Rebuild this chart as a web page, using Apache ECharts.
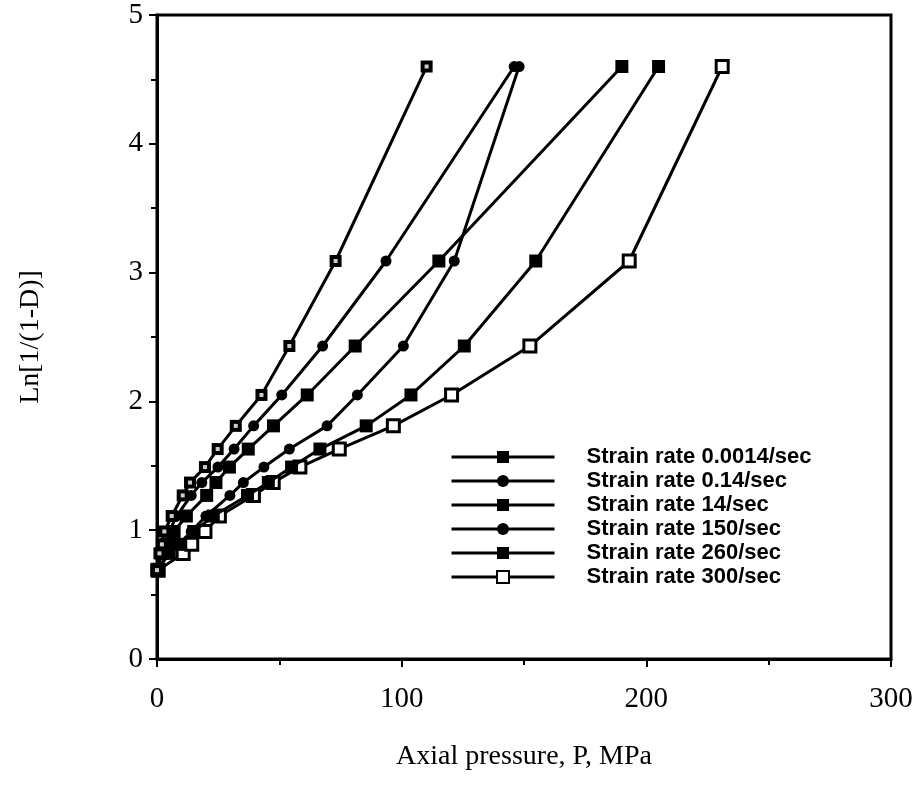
<!DOCTYPE html>
<html lang="en" style="height: 100%">
<head>
<meta charset="utf-8">
<title>Ln[1/(1-D)] vs axial pressure</title>
</head>
<body style="height: 100%; margin: 0; background: #fff">
<div id="container" style="height: 100%"></div>
<script type="text/javascript" src="https://cdn.jsdelivr.net/npm/echarts/dist/echarts.min.js"></script>
<script type="text/javascript">
var dom = document.getElementById('container');
var myChart = echarts.init(dom);

// ln[1/(1-D)] levels shared by all curves
var lnLevels = [0.69, 0.82, 0.89, 0.99, 1.11, 1.27, 1.37, 1.49, 1.63, 1.81, 2.05, 2.43, 3.09, 4.6];

// axial pressure (MPa) at each level, one array per strain rate
var p0014 = [0, 1, 2, 3, 6, 10.5, 13.5, 19.6, 24.8, 32.2, 42.7, 54.1, 73.0, 110.2];
var p014  = [0, 2, 3, 5, 8, 14, 18.3, 24.9, 31.5, 39.5, 51.0, 67.7, 93.6, 146];
var p14   = [0, 2, 4, 7, 12, 20.3, 24.1, 29.6, 37.3, 47.6, 61.4, 81.0, 115.2, 190];
var p150  = [0, 5, 9, 14, 20, 29.8, 35.3, 43.7, 54.1, 69.5, 81.9, 100.7, 121.5, 148];
var p260  = [0, 5, 9, 15, 23, 37, 45.5, 55.0, 66.6, 85.5, 103.8, 125.6, 154.8, 205];
var p300  = [0.5, 10.7, 14.2, 19.6, 25.5, 39.4, 47.5, 58.4, 74.5, 96.6, 120.4, 152.4, 193, 231];

var seriesNames = [
    'Strain rate 0.0014/sec',
    'Strain rate 0.14/sec',
    'Strain rate 14/sec',
    'Strain rate 150/sec',
    'Strain rate 260/sec',
    'Strain rate 300/sec'
];
var seriesP = [p0014, p014, p14, p150, p260, p300];

var xTicks = [0, 100, 200, 300];
var yTicks = [0, 1, 2, 3, 4, 5];

function pairs(ps) {
    return ps.map(function (p, i) { return [p, lnLevels[i]]; });
}

// marker look per curve
var markers = [
    { symbol: 'rect', size: 12, fill: '#000', border: 0 },
    { symbol: 'circle', size: 11, fill: '#000', border: 0 },
    { symbol: 'rect', size: 13, fill: '#000', border: 0 },
    { symbol: 'circle', size: 11, fill: '#000', border: 0 },
    { symbol: 'rect', size: 13, fill: '#000', border: 0 },
    { symbol: 'rect', size: 12, fill: '#fff', border: 3 }
];

var series = seriesNames.map(function (name, k) {
    var m = markers[k];
    return {
        name: name,
        type: 'line',
        data: pairs(seriesP[k]),
        symbol: m.symbol,
        symbolSize: m.size,
        showAllSymbol: true,
        z: 10 - k,
        lineStyle: { color: '#000', width: 3 },
        itemStyle: {
            color: m.fill,
            borderColor: '#000',
            borderWidth: m.border
        },
        emphasis: { disabled: true }
    };
});

// small white dot inside the 0.0014/sec squares
series.push({
    name: 'inner',
    type: 'scatter',
    data: pairs(p0014),
    symbol: 'rect',
    symbolSize: 4,
    z: 20,
    itemStyle: { color: '#fff' },
    silent: true
});

var option = {
    animation: false,
    backgroundColor: '#fff',
    grid: {
        left: 157,
        right: 33,
        top: 15,
        bottom: 128,
        show: true,
        borderColor: '#000',
        borderWidth: 3
    },
    legend: {
        data: seriesNames,
        orient: 'vertical',
        left: 450,
        top: 446,
        padding: 0,
        itemWidth: 103,
        itemHeight: 15,
        itemGap: 2,
        lineStyle: { width: 3 },
        textStyle: {
            fontFamily: 'Liberation Sans',
            fontWeight: 'bold',
            fontSize: 22,
            lineHeight: 22,
            color: '#000',
            padding: [0, 0, 0, 27]
        }
    },
    xAxis: {
        type: 'value',
        min: xTicks[0],
        max: xTicks[xTicks.length - 1],
        interval: 100,
        name: 'Axial pressure, P, MPa',
        nameLocation: 'middle',
        nameGap: 84,
        nameTextStyle: { fontFamily: 'Liberation Serif', fontSize: 28, color: '#000' },
        axisLine: { lineStyle: { color: '#000', width: 3 } },
        axisTick: { length: 8, lineStyle: { color: '#000', width: 2 } },
        minorTick: { show: true, splitNumber: 2, length: 6, lineStyle: { color: '#000', width: 2 } },
        splitLine: { show: false },
        axisLabel: { fontFamily: 'Liberation Serif', fontSize: 29, color: '#000', margin: 26 }
    },
    yAxis: {
        type: 'value',
        min: yTicks[0],
        max: yTicks[yTicks.length - 1],
        interval: 1,
        name: 'Ln[1/(1-D)]',
        nameLocation: 'middle',
        nameGap: 112,
        nameTextStyle: { fontFamily: 'Liberation Serif', fontSize: 28, color: '#000' },
        axisLine: { lineStyle: { color: '#000', width: 3 } },
        axisTick: { length: 8, lineStyle: { color: '#000', width: 2 } },
        minorTick: { show: true, splitNumber: 2, length: 6, lineStyle: { color: '#000', width: 2 } },
        splitLine: { show: false },
        axisLabel: { fontFamily: 'Liberation Serif', fontSize: 29, color: '#000', margin: 14 }
    },
    series: series
};

myChart.setOption(option);
window.addEventListener('resize', myChart.resize);
</script>
</body>
</html>
